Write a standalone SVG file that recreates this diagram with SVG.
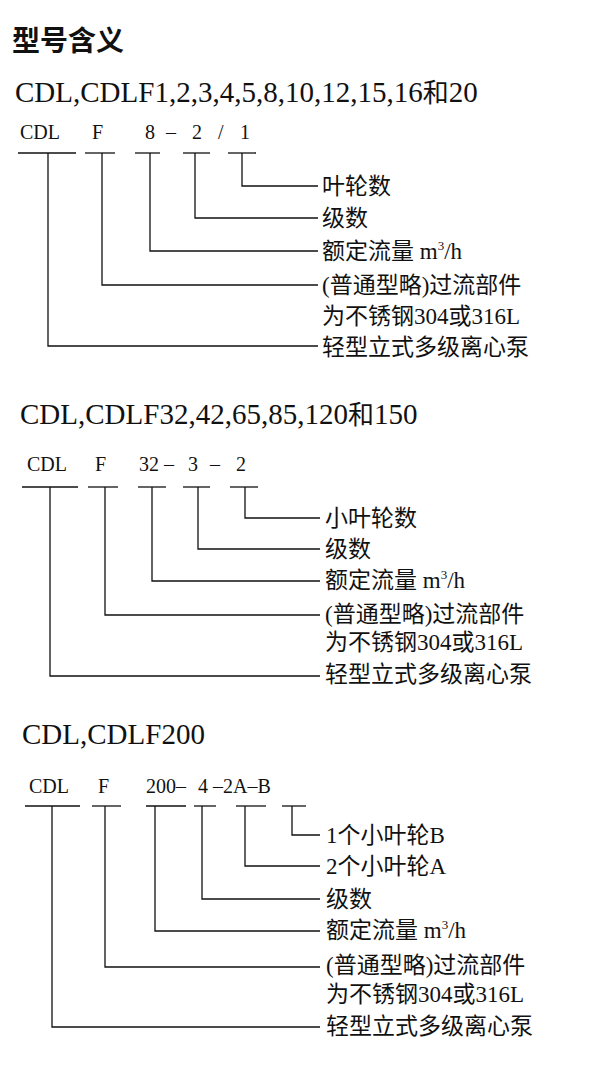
<svg xmlns="http://www.w3.org/2000/svg" width="600" height="1083" viewBox="0 0 600 1083">
<style>
.t{font-family:"Liberation Serif",serif;fill:#111}
.c{font-family:"Liberation Serif","Noto Sans CJK SC",serif;font-size:23px;fill:#111}
.h{font-size:29px}
.r{font-size:20px}
line,polyline{stroke:#111;stroke-width:1.3;fill:none}
</style>
<rect width="600" height="1083" fill="#fff"/>
<text x="12" y="51" style="font-family:'Noto Sans CJK SC',sans-serif;font-weight:bold;font-size:28px;fill:#111">型号含义</text>

<g id="s1">
<text class="t h" x="15" y="102">CDL,CDLF1,2,3,4,5,8,10,12,15,16<tspan style="font-family:'Noto Sans CJK SC',sans-serif;font-size:26px">和</tspan>20</text>
<text class="t r" x="20" y="139">CDL</text><text class="t r" x="92" y="139">F</text><text class="t r" x="145" y="139">8</text><text class="t r" x="166" y="139">–</text><text class="t r" x="192" y="139">2</text><text class="t r" x="218" y="139">/</text><text class="t r" x="240" y="139">1</text>
<g id="conn1">
<line x1="18" y1="153" x2="76" y2="153"/><line x1="85" y1="153" x2="115" y2="153"/><line x1="135" y1="153" x2="160" y2="153"/><line x1="183" y1="153" x2="210" y2="153"/><line x1="228" y1="153" x2="256" y2="153"/>
<polyline points="242,153 242,186 318,186"/>
<polyline points="195,153 195,218 318,218"/>
<polyline points="150,153 150,251 318,251"/>
<polyline points="102,153 102,285 318,285"/>
<polyline points="48,153 48,346 318,346"/>
</g>
<text class="c" x="322" y="194">叶轮数</text>
<text class="c" x="322" y="226">级数</text>
<text class="c" x="322" y="259">额定流量  m<tspan font-size="13" dy="-9">3</tspan><tspan dy="9">/h</tspan></text>
<text class="c" x="322" y="293">(普通型略)过流部件</text>
<text class="c" x="322" y="324">为不锈钢304或316L</text>
<text class="c" x="322" y="355">轻型立式多级离心泵</text>
</g>

<g id="s2">
<text class="t h" x="20" y="424">CDL,CDLF32,42,65,85,120<tspan style="font-family:'Noto Sans CJK SC',sans-serif;font-size:26px">和</tspan>150</text>
<text class="t r" x="27" y="471">CDL</text><text class="t r" x="95" y="471">F</text><text class="t r" x="139" y="471">32</text><text class="t r" x="164" y="471">–</text><text class="t r" x="188" y="471">3</text><text class="t r" x="210" y="471">–</text><text class="t r" x="236" y="471">2</text>
<g id="conn2">
<line x1="22" y1="487" x2="78" y2="487"/><line x1="88" y1="487" x2="118" y2="487"/><line x1="138" y1="487" x2="166" y2="487"/><line x1="183" y1="487" x2="210" y2="487"/><line x1="230" y1="487" x2="258" y2="487"/>
<polyline points="245,487 245,518 320,518"/>
<polyline points="198,487 198,549 320,549"/>
<polyline points="152,487 152,581 320,581"/>
<polyline points="105,487 105,615 320,615"/>
<polyline points="50,487 50,676 320,676"/>
</g>
<text class="c" x="325" y="526">小叶轮数</text>
<text class="c" x="325" y="557">级数</text>
<text class="c" x="325" y="588">额定流量  m<tspan font-size="13" dy="-9">3</tspan><tspan dy="9">/h</tspan></text>
<text class="c" x="325" y="622">(普通型略)过流部件</text>
<text class="c" x="325" y="650">为不锈钢304或316L</text>
<text class="c" x="325" y="682">轻型立式多级离心泵</text>
</g>

<g id="s3">
<text class="t h" x="22" y="744">CDL,CDLF200</text>
<text class="t r" x="29" y="793">CDL</text><text class="t r" x="98" y="793">F</text><text class="t r" x="146" y="793">200–</text><text class="t r" x="198" y="793">4</text><text class="t r" x="213" y="793">–2A–B</text>
<g id="conn3">
<line x1="25" y1="806" x2="80" y2="806"/><line x1="92" y1="806" x2="121" y2="806"/><line x1="146" y1="806" x2="186" y2="806"/><line x1="194" y1="806" x2="216" y2="806"/><line x1="236" y1="806" x2="266" y2="806"/><line x1="282" y1="806" x2="306" y2="806"/>
<polyline points="292,806 292,835 320,835"/>
<polyline points="245,806 245,866 320,866"/>
<polyline points="202,806 202,899 320,899"/>
<polyline points="155,806 155,931 320,931"/>
<polyline points="105,806 105,967 320,967"/>
<polyline points="52,806 52,1027 320,1027"/>
</g>
<text class="c" x="326" y="843">1个小叶轮B</text>
<text class="c" x="326" y="874">2个小叶轮A</text>
<text class="c" x="326" y="907">级数</text>
<text class="c" x="326" y="938">额定流量  m<tspan font-size="13" dy="-9">3</tspan><tspan dy="9">/h</tspan></text>
<text class="c" x="326" y="973">(普通型略)过流部件</text>
<text class="c" x="326" y="1002">为不锈钢304或316L</text>
<text class="c" x="326" y="1034">轻型立式多级离心泵</text>
</g>
</svg>
